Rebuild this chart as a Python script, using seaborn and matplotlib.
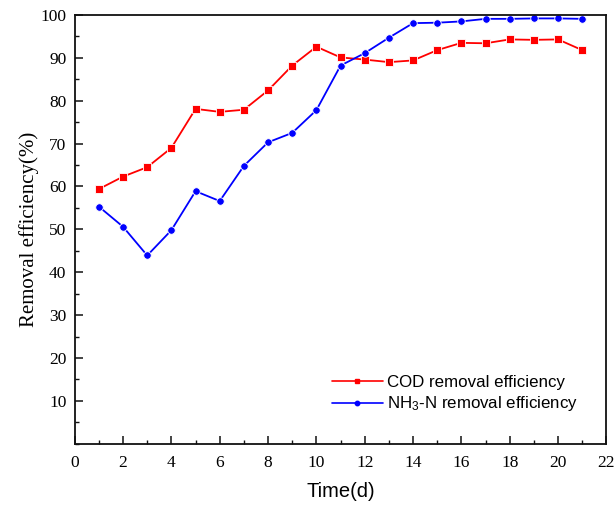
import numpy as np
import pandas as pd
import matplotlib
matplotlib.use("Agg")
import matplotlib.pyplot as plt
from matplotlib.ticker import MultipleLocator
from matplotlib.lines import Line2D
import seaborn as sns

# Sampling days and removal efficiencies (%)
days = list(range(1, 22))
cod_eff = [59.4, 62.3, 64.5, 69.0, 78.1, 77.4, 77.9, 82.4, 88.2, 92.6, 90.1,
           89.6, 89.0, 89.4, 91.8, 93.5, 93.4, 94.3, 94.2, 94.3, 91.8]
nh3_eff = [55.3, 50.6, 43.9, 49.8, 58.9, 56.6, 64.8, 70.3, 72.5, 77.8, 88.2,
           91.1, 94.7, 98.1, 98.2, 98.5, 99.1, 99.1, 99.2, 99.2, 99.1]
series_names = ["COD removal efficiency", "NH$_3$-N removal efficiency"]

x_ticks = list(range(0, 23, 2))
y_ticks = list(range(10, 101, 10))

sns.set_theme(style="white")
plt.rcParams["font.family"] = ["Liberation Serif", "DejaVu Serif"]
plt.rcParams["text.color"] = "black"
plt.rcParams["axes.labelcolor"] = "black"
plt.rcParams["mathtext.fontset"] = "custom"
plt.rcParams["mathtext.rm"] = "Liberation Sans"
plt.rcParams["mathtext.it"] = "Liberation Sans:italic"

df = pd.DataFrame({
    "Time": days * 2,
    "Efficiency": cod_eff + nh3_eff,
    "Series": [series_names[0]] * len(days) + [series_names[1]] * len(days),
})

colors = {series_names[0]: "#ff0000", series_names[1]: "#0000ff"}
markers = {series_names[0]: "s", series_names[1]: "o"}

fig = plt.figure(figsize=(6.16, 5.08), dpi=100)
ax = fig.add_axes([0.1213, 0.1266, 0.8631, 0.8439])

sns.lineplot(data=df, x="Time", y="Efficiency", hue="Series", style="Series",
             palette=colors, markers=markers, dashes=False, linewidth=1.3,
             markersize=5.4, markeredgewidth=0.6, legend=False, ax=ax)

ax.set_xlim(0, 22)
ax.set_ylim(0, 100)
ax.set_xticks(x_ticks)
ax.set_yticks(y_ticks)
ax.xaxis.set_minor_locator(MultipleLocator(1))
ax.yaxis.set_minor_locator(MultipleLocator(5))
ax.tick_params(axis="both", which="major", direction="in", length=6, width=1.1,
               labelsize=12.5, colors="#111111", labelcolor="black", pad=6)
ax.tick_params(axis="x", which="major", pad=8)
ax.tick_params(axis="both", which="minor", direction="in", length=3, width=1.0,
               colors="#111111")
ax.tick_params(top=False, right=False, which="both")
ax.tick_params(bottom=True, left=True, which="both")

for sp in ax.spines.values():
    sp.set_visible(True)
    sp.set_color("#111111")
    sp.set_linewidth(1.3)

ax.set_xlabel("Time(d)", fontsize=14.5, family=["Liberation Sans", "DejaVu Sans"],
              labelpad=8)
ax.set_ylabel("Removal efficiency(%)", fontsize=15, labelpad=1)

handles = [
    Line2D([], [], color=colors[s], marker=markers[s], markersize=3.2,
           linewidth=1.2) for s in series_names
]
ax.legend(handles, series_names, loc="lower left", bbox_to_anchor=(0.455, 0.035),
          frameon=False, handlelength=3.0, handletextpad=0.25, labelspacing=0.25,
          prop={"family": ["Liberation Sans", "DejaVu Sans"], "size": 12.2})

fig.savefig("out.png", dpi=100)
